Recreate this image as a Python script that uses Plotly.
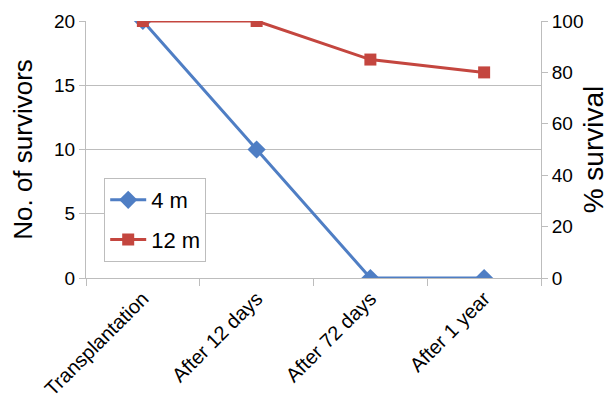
import plotly.graph_objects as go

categories = ["Transplantation", "After 12 days", "After 72 days", "After 1 year"]
survivors_4m = [20, 10, 0, 0]
survivors_12m = [20, 20, 17, 16]
percent_12m = [100, 100, 85, 80]
left_ticks = [0, 5, 10, 15, 20]
right_ticks = [0, 20, 40, 60, 80, 100]

BLUE = "#4F7EC4"
RED = "#C4463F"
GRID = "#BDBDBD"
FONT = "Liberation Sans, Arial, Helvetica, sans-serif"

fig = go.Figure()
fig.add_trace(go.Scatter(
    x=categories, y=survivors_4m, name="4 m", legendgroup="a",
    mode="lines+markers",
    line=dict(color=BLUE, width=3),
    marker=dict(symbol="diamond", size=14, color=BLUE),
))
fig.add_trace(go.Scatter(
    x=categories, y=survivors_12m, name="12 m", legendgroup="b",
    mode="lines+markers",
    line=dict(color=RED, width=3),
    marker=dict(symbol="square", size=12, color=RED),
))
# carrier for the percentage axis (hidden, same curve as 12 m)
fig.add_trace(go.Scatter(
    x=categories, y=percent_12m, yaxis="y2", mode="lines",
    line=dict(width=0, color="rgba(0,0,0,0)"), opacity=0,
    showlegend=False, hoverinfo="skip",
))

fig.update_layout(
    width=605, height=391,
    margin=dict(l=78, r=72, t=13, b=121, autoexpand=False),
    paper_bgcolor="white", plot_bgcolor="white",
    font=dict(family=FONT, size=20, color="black"),
    showlegend=True,
    legend=dict(
        x=0.04, y=0.389, xanchor="left", yanchor="top",
        bgcolor="white", bordercolor=GRID, borderwidth=1,
        font=dict(size=22), tracegroupgap=8, itemwidth=36,
        traceorder="grouped",
    ),
    xaxis=dict(
        type="category", range=[-0.5, 3.5], automargin=False,
        tickson="boundaries", ticks="outside", ticklen=7, tickcolor=GRID,
        showline=True, linecolor=GRID, linewidth=1,
        showgrid=False, tickangle=-45, tickfont=dict(size=20),
    ),
    yaxis=dict(
        range=[0, 20], tickvals=left_ticks, automargin=False,
        ticks="outside", ticklen=6, tickcolor=GRID,
        showline=True, linecolor=GRID, linewidth=1,
        showgrid=True, gridcolor=GRID, gridwidth=1, zeroline=False,
        title=dict(text="No. of survivors", font=dict(size=26), standoff=14),
        tickfont=dict(size=19),
    ),
    yaxis2=dict(
        range=[0, 100], tickvals=right_ticks, overlaying="y", side="right",
        automargin=False,
        ticks="outside", ticklen=6, tickcolor=GRID,
        showline=True, linecolor=GRID, linewidth=1,
        showgrid=False, zeroline=False,
        title=dict(text="% survival", font=dict(size=28), standoff=0),
        tickfont=dict(size=19),
    ),
)

fig.write_html("out.html")
